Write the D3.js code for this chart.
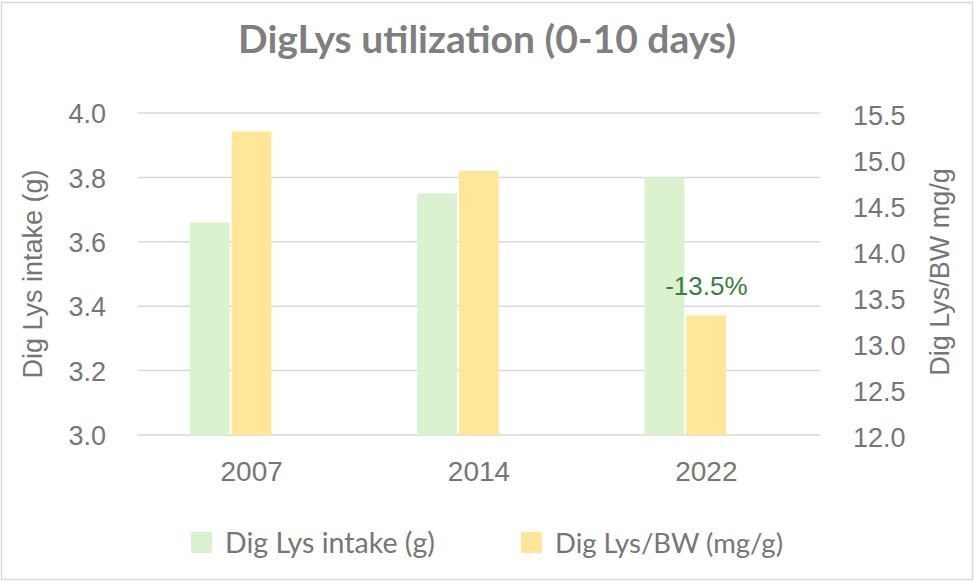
<!DOCTYPE html>
<html>
<head>
<meta charset="utf-8">
<script src="https://cdn.jsdelivr.net/npm/d3@7"></script>
<style>
  body { margin: 0; background: #fff; }
  text { font-family: "Liberation Sans", Arial, sans-serif; }
  .soft { font-family: Lato, "Open Sans", sans-serif; }
</style>
</head>
<body>
<div id="chart"></div>
<script>
// data
var years = ["2007", "2014", "2022"];
var intake = [3.66, 3.75, 3.80];          // Dig Lys intake (g), left axis
var perBW = [15.30, 14.87, 13.30];        // Dig Lys/BW (mg/g), right axis
var leftTicks = [3.0, 3.2, 3.4, 3.6, 3.8, 4.0];
var rightTicks = [12.0, 12.5, 13.0, 13.5, 14.0, 14.5, 15.0, 15.5];
var seriesNames = ["Dig Lys intake (g)", "Dig Lys/BW (mg/g)"];
var note = { year: "2022", value: 13.52, label: "-13.5%" };

var W = 974, H = 583;
var plot = { left: 138, right: 820, top: 113, bottom: 435 };
var grey = "#767676";
var colors = ["#daf2d0", "#ffe699"];

// shrink/grow a text so it spans the wanted width
function fitWidth(sel, size, width) {
  sel.style("font-size", size + "px");
  var w = sel.node().getComputedTextLength();
  sel.style("font-size", (size * width / w).toFixed(2) + "px");
}

var svg = d3.select("#chart").append("svg")
  .attr("width", W)
  .attr("height", H);

// chart border
svg.append("rect")
  .attr("x", 1.5).attr("y", 2.5)
  .attr("width", 971).attr("height", 577)
  .attr("fill", "#fff")
  .attr("stroke", "#d9d9d9")
  .attr("stroke-width", 1.5);

var x = d3.scaleBand().domain(years).range([plot.left, plot.right]);
// three slots per year, the last one is empty in the original chart
var xIn = d3.scaleBand().domain(["a", "b", "c"])
  .range([-61.7, 61.3]).paddingInner(0.045);
var yL = d3.scaleLinear().domain([3.0, 4.0]).range([plot.bottom, plot.top]);
var yR = d3.scaleLinear().domain([12.0, 15.5]).range([plot.bottom, plot.top]);

// gridlines
svg.append("g")
  .selectAll("line")
  .data(leftTicks)
  .enter()
  .append("line")
  .attr("x1", plot.left).attr("x2", plot.right)
  .attr("y1", function (d) { return yL(d); })
  .attr("y2", function (d) { return yL(d); })
  .attr("stroke", "#d9d9d9")
  .attr("stroke-width", 1.5);

// left axis
var axL = svg.append("g")
  .attr("transform", "translate(106,0)")
  .call(d3.axisLeft(yL).tickValues(leftTicks).tickFormat(d3.format(".1f")).tickSize(0).tickPadding(0));
axL.select(".domain").remove();
axL.selectAll("text")
  .attr("fill", grey)
  .style("font-size", "27px")
  .attr("dy", "0.36em");

// right axis
var axR = svg.append("g")
  .attr("transform", "translate(853,0)")
  .call(d3.axisRight(yR).tickValues(rightTicks).tickFormat(d3.format(".1f")).tickSize(0).tickPadding(0));
axR.select(".domain").remove();
axR.selectAll("text")
  .attr("fill", grey)
  .style("font-size", "27px")
  .attr("dy", "0.42em");

// x axis labels
var axX = svg.append("g")
  .attr("transform", "translate(0," + plot.bottom + ")")
  .call(d3.axisBottom(x).tickSize(0).tickPadding(0));
axX.select(".domain").remove();
axX.selectAll("text")
  .attr("fill", grey)
  .style("font-size", "28px")
  .attr("y", 46)
  .attr("dy", 0);

// bars
var bars = svg.append("g");
bars.selectAll("rect.intake")
  .data(years)
  .enter()
  .append("rect")
  .attr("class", "intake")
  .attr("x", function (d) { return x(d) + x.bandwidth() / 2 + xIn("a"); })
  .attr("width", xIn.bandwidth())
  .attr("y", function (d, i) { return yL(intake[i]); })
  .attr("height", function (d, i) { return yL(3.0) - yL(intake[i]); })
  .attr("fill", colors[0]);

bars.selectAll("rect.bw")
  .data(years)
  .enter()
  .append("rect")
  .attr("class", "bw")
  .attr("x", function (d) { return x(d) + x.bandwidth() / 2 + xIn("b"); })
  .attr("width", xIn.bandwidth())
  .attr("y", function (d, i) { return yR(perBW[i]); })
  .attr("height", function (d, i) { return yR(12.0) - yR(perBW[i]); })
  .attr("fill", colors[1]);

// annotation
svg.append("text")
  .attr("x", x(note.year) + x.bandwidth() / 2)
  .attr("y", yR(note.value))
  .attr("text-anchor", "middle")
  .attr("fill", "#3a7d44")
  .style("font-size", "26px")
  .text(note.label);

// title
var title = svg.append("text")
  .attr("class", "soft")
  .attr("x", 487)
  .attr("y", 53)
  .attr("text-anchor", "middle")
  .attr("fill", "#7f7f7f")
  .style("font-weight", "bold")
  .text("DigLys utilization (0-10 days)");
fitWidth(title, 34, 498);

// axis titles
svg.append("text")
  .attr("transform", "translate(42,274) rotate(-90)")
  .attr("text-anchor", "middle")
  .attr("fill", grey)
  .style("font-size", "27px")
  .text("Dig Lys intake (g)");

svg.append("text")
  .attr("transform", "translate(949,272) rotate(-90)")
  .attr("text-anchor", "middle")
  .attr("fill", grey)
  .style("font-size", "27px")
  .text("Dig Lys/BW mg/g");

// legend
var legendX = [191, 521];
var legendW = [210, 228];
var legend = svg.append("g")
  .selectAll("g")
  .data(seriesNames)
  .enter()
  .append("g")
  .attr("transform", function (d, i) { return "translate(" + legendX[i] + ",532)"; });
legend.append("rect")
  .attr("width", 21).attr("height", 21)
  .attr("fill", function (d, i) { return colors[i]; });
legend.append("text")
  .attr("class", "soft")
  .attr("x", 34)
  .attr("y", 21)
  .attr("fill", grey)
  .text(function (d) { return d; })
  .each(function (d, i) { fitWidth(d3.select(this), 28, legendW[i]); });
</script>
</body>
</html>
